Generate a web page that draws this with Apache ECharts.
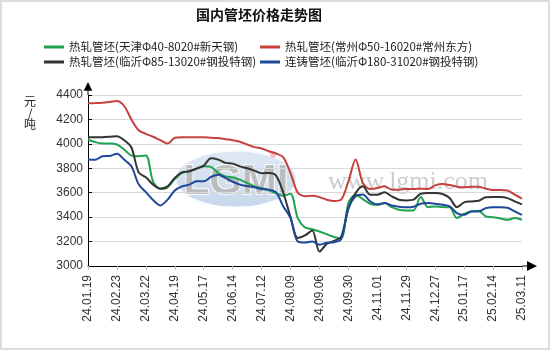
<!DOCTYPE html>
<html>
<head>
<meta charset="utf-8">
<script src="https://cdn.jsdelivr.net/npm/echarts@6/dist/echarts.min.js"></script>
<style>
  html, body { margin: 0; padding: 0; background: #fff; }
  #wrap { position: relative; width: 550px; height: 350px; }
  #chart { width: 550px; height: 350px; }
  #frame { position: absolute; left: 0; top: 0; width: 550px; height: 350px; box-sizing: border-box; border: 2px solid #dedede; pointer-events: none; }
</style>
</head>
<body>
<div id="wrap"><div id="chart"></div><div id="frame"></div></div>
<script>
// Weekly quotation dates
const dates = [
  '24.01.19','24.01.26','24.02.02','24.02.08','24.02.23','24.03.01','24.03.08','24.03.15',
  '24.03.22','24.03.29','24.04.03','24.04.12','24.04.19','24.04.26','24.04.30','24.05.10',
  '24.05.17','24.05.24','24.05.31','24.06.07','24.06.14','24.06.21','24.06.28','24.07.05',
  '24.07.12','24.07.19','24.07.26','24.08.02','24.08.09','24.08.16','24.08.23','24.08.30',
  '24.09.06','24.09.13','24.09.20','24.09.25','24.09.30','24.10.11','24.10.18','24.10.25',
  '24.11.01','24.11.08','24.11.15','24.11.22','24.11.29','24.12.06','24.12.13','24.12.20',
  '24.12.27','25.01.03','25.01.08','25.01.13','25.01.17','25.01.24','25.02.07','25.02.10',
  '25.02.14','25.02.21','25.02.28','25.03.05','25.03.11'
];

const seriesNames = [
  '热轧管坯(天津Φ40-8020#新天钢)',
  '热轧管坯(常州Φ50-16020#常州东方)',
  '热轧管坯(临沂Φ85-13020#钢投特钢)',
  '连铸管坯(临沂Φ180-31020#钢投特钢)'
];

// 元/吨
const tianjin = [
  4036,4014,4003,4003,3995,3954,3904,3899,3905,3690,3633,3644,3712,3762,3775,3797,
  3817,3811,3762,3734,3726,3707,3680,3652,3638,3619,3597,3575,3592,3392,3315,
  3301,3282,3260,3238,3227,3515,3584,3548,3510,3501,3515,3482,3460,3455,3455,
  3564,3482,3488,3482,3480,3392,3427,3449,3452,3405,3400,3389,3378,3392,3378
];
const changzhou = [
  4332,4334,4337,4342,4351,4310,4200,4112,4082,4058,4030,4003,4050,4055,4055,4055,
  4055,4049,4047,4038,4030,4017,3995,3973,3962,3940,3921,3890,3760,3600,3572,
  3575,3564,3543,3532,3543,3693,3871,3679,3630,3638,3652,3625,3625,3630,3630,
  3633,3630,3660,3671,3663,3649,3644,3649,3649,3633,3622,3622,3619,3584,3551
];
const linyiHot = [
  4055,4055,4055,4058,4063,4030,3970,3767,3726,3666,3633,3652,3721,3767,3775,3797,
  3822,3882,3871,3844,3838,3816,3800,3781,3759,3762,3740,3600,3400,3230,3250,
  3290,3118,3181,3205,3241,3474,3597,3652,3584,3584,3603,3570,3543,3537,3543,
  3592,3597,3597,3589,3556,3482,3521,3529,3534,3562,3564,3564,3556,3529,3504
];
const linyiCast = [
  3871,3869,3899,3901,3918,3871,3816,3670,3605,3540,3496,3543,3619,3652,3666,3693,
  3693,3729,3748,3721,3690,3666,3655,3645,3630,3625,3603,3488,3392,3200,3192,
  3200,3175,3190,3195,3220,3470,3570,3585,3530,3505,3515,3495,3485,3480,3485,
  3510,3515,3510,3501,3488,3433,3419,3447,3447,3474,3482,3482,3477,3447,3419
];

const colors = ['#1fa24f', '#c6413b', '#333333', '#1f479b'];
const values = [tianjin, changzhou, linyiHot, linyiCast];

const latin = 'Liberation Sans, Arial, "Noto Sans CJK SC", sans-serif';
const cjk = '"Noto Sans CJK SC", "Liberation Sans", sans-serif';

// axis end arrow: filled head on a short stem so the axis line runs into it
const arrowPath = 'path://M5,0 L10,10 L5.5,10 L5.5,15 L4.5,15 L4.5,10 L0,10 Z';

const chart = echarts.init(document.getElementById('chart'), null, { renderer: 'canvas' });

const legendBase = {
  orient: 'vertical',
  icon: 'rect',
  itemWidth: 20,
  itemHeight: 3,
  itemGap: 1,
  padding: 0,
  textStyle: { fontFamily: cjk, fontSize: 11.5, color: '#222', lineHeight: 14 }
};

chart.setOption({
  animation: false,
  backgroundColor: '#ffffff',
  color: colors,
  title: {
    text: '国内管坯价格走势图',
    left: 196,
    top: 8,
    padding: 0,
    textStyle: { fontFamily: cjk, fontSize: 14, fontWeight: 'bold', color: '#111' }
  },
  legend: [
    Object.assign({}, legendBase, { left: 44, top: 40, data: [seriesNames[0], seriesNames[2]] }),
    Object.assign({}, legendBase, { left: 260, top: 40, data: [seriesNames[1], seriesNames[3]] })
  ],
  grid: { left: 88, right: 28, top: 95, bottom: 84, containLabel: false },
  xAxis: {
    type: 'category',
    data: dates,
    boundaryGap: false,
    axisLine: {
      lineStyle: { color: '#000', width: 1 },
      symbol: ['none', arrowPath],
      symbolSize: [10, 15],
      symbolOffset: [0, 7.5]
    },
    axisTick: { show: true, interval: 3, length: 4, lineStyle: { color: '#bdbdbd' } },
    axisLabel: {
      interval: 3,
      rotate: 90,
      margin: 9,
      fontFamily: latin,
      fontSize: 12,
      color: '#333'
    },
    splitLine: { show: false }
  },
  yAxis: {
    type: 'value',
    min: 3000,
    max: 4400,
    interval: 200,
    axisLine: {
      show: true,
      lineStyle: { color: '#000', width: 1 },
      symbol: ['none', arrowPath],
      symbolSize: [10, 13],
      symbolOffset: [0, 6.5]
    },
    axisTick: { show: true, inside: true, length: 4, lineStyle: { color: '#000' } },
    axisLabel: {
      margin: 5, fontFamily: latin, fontSize: 12, color: '#333',
      formatter: (v) => String(v)
    },
    splitLine: { lineStyle: { color: '#d9d9d9', width: 1 } }
  },
  graphic: [
    // unit label, stacked vertically
    { type: 'text', x: 30, y: 96, z: 10,
      style: { text: '元\n/\n吨', font: '12px ' + cjk, fill: '#222', lineHeight: 11.5, align: 'center', verticalAlign: 'top' } },
    // site logo watermark
    { type: 'ellipse', z: 0, silent: true,
      shape: { cx: 236, cy: 179, rx: 61, ry: 29 },
      style: {
        fill: new echarts.graphic.LinearGradient(0, 0, 0, 1, [
          { offset: 0, color: '#dbe6f3' }, { offset: 1, color: '#bccfe7' }
        ]),
        stroke: '#ffffff', lineWidth: 3, opacity: 0.85
      } },
    { type: 'text', z: 0, silent: true, x: 236, y: 182,
      style: { text: 'LGMI', font: 'bold 42px ' + latin, fill: '#b8b8b8', stroke: '#ffffff', lineWidth: 2,
               align: 'center', verticalAlign: 'middle', opacity: 0.9 } },
    { type: 'circle', z: 0, silent: true, shape: { cx: 273, cy: 155, r: 3 },
      style: { fill: '#f2b8c0', opacity: 0.9 } },
    { type: 'text', z: 0, silent: true, x: 328, y: 182,
      style: { text: 'www.lgmi.com', font: '26px "Liberation Serif", "DejaVu Serif", serif', fill: '#cdcdcd',
               align: 'left', verticalAlign: 'middle' } }
  ],
  series: seriesNames.map((name, i) => ({
    name: name,
    type: 'line',
    data: values[i],
    symbol: 'none',
    smooth: 0.3,
    z: 3,
    lineStyle: { width: 2, color: colors[i] },
    itemStyle: { color: colors[i] }
  }))
});
</script>
</body>
</html>
